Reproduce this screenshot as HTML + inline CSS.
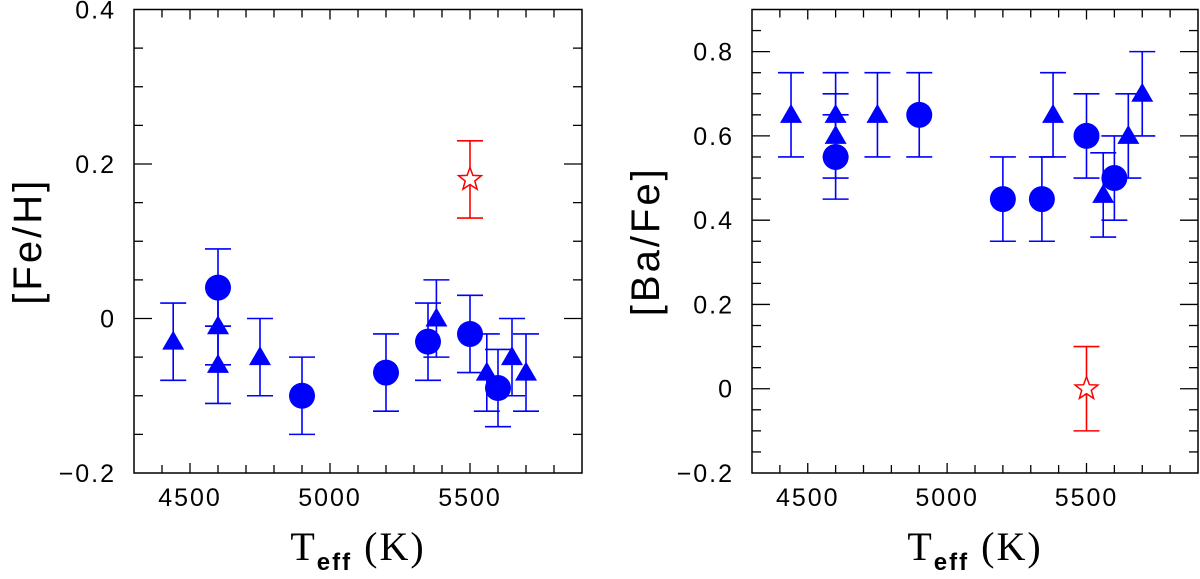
<!DOCTYPE html>
<html><head><meta charset="utf-8"><style>
body{margin:0;background:#fff}
svg{display:block;font-family:"Liberation Sans",sans-serif}
</style></head><body>
<svg id="c" width="1200" height="579"></svg>
<script>
const feTriX=[4440,4600,4600,4750,5380,5560,5650,5700];
const feTriY=[-0.03,-0.01,-0.06,-0.05,0.00,-0.07,-0.05,-0.07];
const feCircX=[4600,4900,5200,5350,5500,5600];
const feCircY=[0.04,-0.10,-0.07,-0.03,-0.02,-0.09];
const feStarX=[5500];
const feStarY=[0.18];
const feErr=0.05;
const baTriX=[4440,4600,4600,4750,5380,5560,5650,5700];
const baTriY=[0.65,0.65,0.60,0.65,0.65,0.46,0.60,0.70];
const baCircX=[4600,4900,5200,5340,5500,5600];
const baCircY=[0.55,0.65,0.45,0.45,0.60,0.50];
const baStarX=[5500];
const baStarY=[0.0];
const baErr=0.1;
const xTicks=[4500,5000,5500];
const feTicks=[-0.2,0,0.2,0.4];
const baTicks=[-0.2,0,0.2,0.4,0.6,0.8];

const NS="http://www.w3.org/2000/svg";
const svg=document.getElementById('c');
function mk(t,a,p){const e=document.createElementNS(NS,t);for(const k in a)e.setAttribute(k,a[k]);(p||svg).appendChild(e);return e;}
function panel(name,L,R,T,B,ymin,ymax,yt,tri,triY,circ,circY,sx,sy,err,ylab){
  const g=mk('g',{});
  
  
  const X=v=>L+(v-4300)/(5900-4300)*(R-L);
  const Y=v=>B-(v-ymin)/(ymax-ymin)*(B-T);
  const fr=mk('rect',{x:L,y:T,width:R-L,height:B-T,fill:'none',stroke:'#000','stroke-width':1.5},g);
  
  
  for(let v=4400;v<=5800;v+=100){const maj=v%500==0;const l=maj?10:8;
    mk('line',{x1:X(v),x2:X(v),y1:B,y2:B-l,stroke:'#000','stroke-width':1.3},g);
    mk('line',{x1:X(v),x2:X(v),y1:T,y2:T+l,stroke:'#000','stroke-width':1.3},g);}
  for(let i=Math.round(ymin*20)+1;i<Math.round(ymax*20);i++){const v=i/20;const maj=i%4==0;const l=maj?18:9;
    mk('line',{x1:L,x2:L+l,y1:Y(v),y2:Y(v),stroke:'#000','stroke-width':1.3},g);
    mk('line',{x1:R,x2:R-l,y1:Y(v),y2:Y(v),stroke:'#000','stroke-width':1.3},g);}
  xTicks.forEach(v=>{const t=mk('text',{x:X(v),y:B+33,'font-size':25,'text-anchor':'middle','letter-spacing':2},g);t.textContent=v;
    
    });
  yt.forEach(v=>{const t=mk('text',{x:L-18,y:Y(v)+9,'font-size':25,'text-anchor':'end','letter-spacing':2},g);
    t.textContent=v==0?'0':(v<0?'\u2212'+Math.abs(v).toFixed(1):v.toFixed(1));
    
    });
  const xt=mk('text',{x:(L+R)/2,y:560,'font-size':40,'text-anchor':'middle','font-family':'Liberation Serif, serif','letter-spacing':2},g);
  xt.innerHTML='T<tspan font-size="24" font-weight="bold" font-family="Liberation Sans, sans-serif" dy="10">eff</tspan><tspan dy="-10"> (K)</tspan>';
  
  
  const yl=mk('text',{x:0,y:0,'font-size':40,'text-anchor':'middle','font-family':'Liberation Sans, sans-serif','letter-spacing':3,transform:`translate(${L-93},${(T+B)/2}) rotate(-90)`},g);
  yl.textContent=ylab;
  
  
  function ebar(x,y,col){
    mk('line',{x1:X(x),x2:X(x),y1:Y(y-err),y2:Y(y+err),stroke:col,'stroke-width':1.6},g);
    [y-err,y+err].forEach(v=>mk('line',{x1:X(x)-13,x2:X(x)+13,y1:Y(v),y2:Y(v),stroke:col,'stroke-width':1.6},g));}
  tri.forEach((x,i)=>{const y=triY[i];ebar(x,y,'#00f');const cx=X(x),cy=Y(y);
    const p=mk('polygon',{points:`${cx-11},${cy+8} ${cx+11},${cy+8} ${cx},${cy-11}`,fill:'#00f'},g);
    
    });
  circ.forEach((x,i)=>{const y=circY[i];ebar(x,y,'#00f');
    const c=mk('circle',{cx:X(x),cy:Y(y),r:13,fill:'#00f'},g);
    
    });
  sx.forEach((x,i)=>{const y=sy[i];ebar(x,y,'#f00');const cx=X(x),cy=Y(y);let pts=[];
    for(let k=0;k<10;k++){const r=k%2?5:12;const a=-Math.PI/2+k*Math.PI/5;pts.push((cx+r*Math.cos(a)).toFixed(1)+','+(cy+r*Math.sin(a)).toFixed(1));}
    const s=mk('polygon',{points:pts.join(' '),fill:'#fff',stroke:'#f00','stroke-width':1.5},g);
    
    });
}
panel('fe-h-panel',134,582,9.5,473,-0.2,0.4,feTicks,feTriX,feTriY,feCircX,feCircY,feStarX,feStarY,feErr,'[Fe/H]');
panel('ba-fe-panel',752,1198,9.5,473,-0.2,0.9,baTicks,baTriX,baTriY,baCircX,baCircY,baStarX,baStarY,baErr,'[Ba/Fe]');
</script>
</body></html>
